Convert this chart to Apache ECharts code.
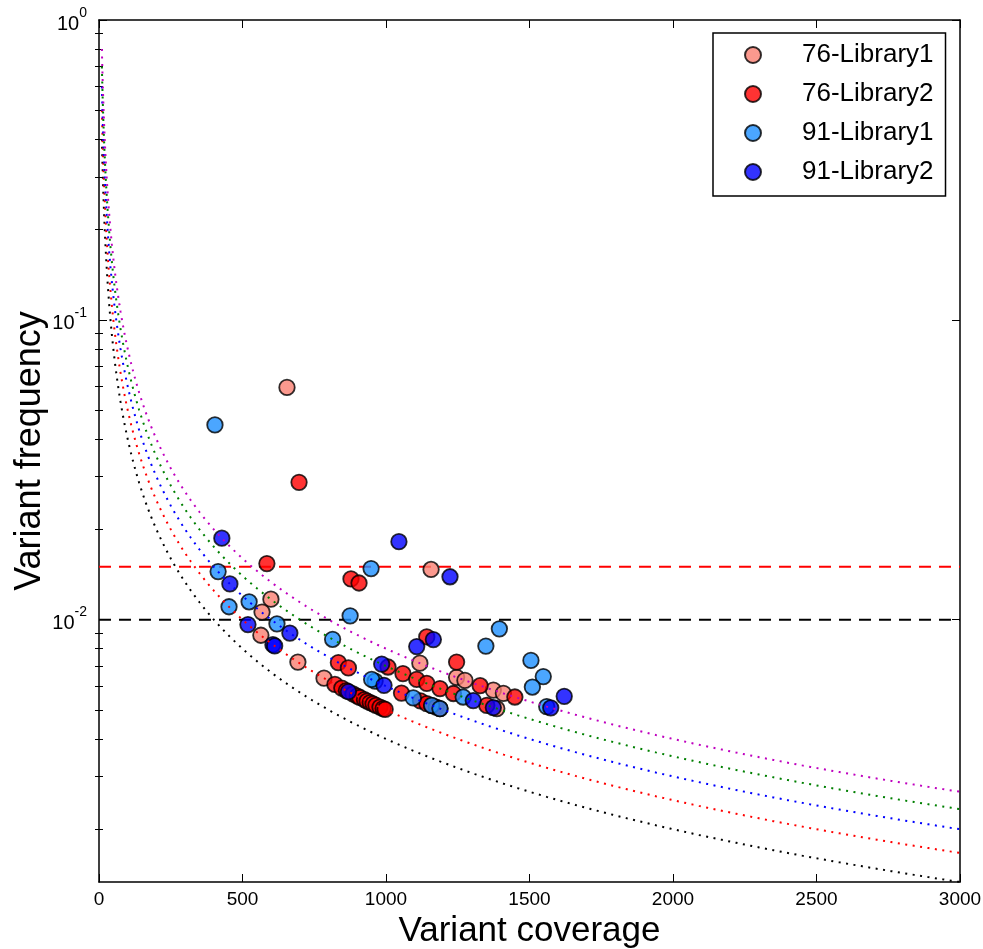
<!DOCTYPE html>
<html>
<head>
<meta charset="utf-8">
<script src="https://cdn.jsdelivr.net/npm/echarts@6/dist/echarts.min.js"></script>
<style>html,body{margin:0;padding:0;background:#fff;}#chart{width:983px;height:949px;}</style>
</head>
<body>
<div id="chart"></div>
<script>
// ---------- data ----------
const seriesNames = ['76-Library1', '76-Library2', '91-Library1', '91-Library2'];

const coverage76L1 = [655, 1157, 599, 568, 564, 693, 784, 1118, 1246, 1275, 1374, 1409, 1386];
const freq76L1     = [0.0595, 0.0147, 0.0117, 0.0106, 0.00887, 0.00722, 0.00638, 0.00716, 0.00642, 0.00627, 0.00582, 0.00568, 0.00505];

const coverage76L2 = [697, 585, 878, 906, 1142, 834, 869, 1007, 1059, 1107, 1142, 1188, 1246, 1328, 1449, 1054,
                      1120, 1142, 1160, 1175, 1188, 1235, 1351,
                      822, 846, 862, 885, 900, 909, 925, 934, 945, 955, 965, 979, 990, 997];
const freq76L2     = [0.0287, 0.01538, 0.01367, 0.01325, 0.00876, 0.00719, 0.0069, 0.00695, 0.00661, 0.00632, 0.00613, 0.00589, 0.00722, 0.00602, 0.00552, 0.00569,
                      0.00536, 0.00525, 0.00517, 0.00511, 0.00505, 0.00567, 0.00518,
                      0.00608, 0.00591, 0.0058, 0.00565, 0.00556, 0.0055, 0.00541, 0.00535, 0.00529, 0.00524, 0.00518, 0.00511, 0.00505, 0.00502];

const coverage91L1 = [404, 948, 875, 415, 453, 523, 620, 814, 962, 950, 1095, 1159, 1188, 1269, 1395, 1348, 1505, 1548, 1510, 1560];
const freq91L1     = [0.0446, 0.0148, 0.0103, 0.01446, 0.01104, 0.01147, 0.00968, 0.0086, 0.00624, 0.00632, 0.00548, 0.00518, 0.00505, 0.00552, 0.00932, 0.00816, 0.00731, 0.00646, 0.00596, 0.00513];

const coverage91L2 = [428, 1045, 1223, 456, 519, 665, 606, 612, 869, 985, 993, 1165, 1107, 1304, 1374, 1621, 1574];
const freq91L2     = [0.0187, 0.0182, 0.0139, 0.01316, 0.00963, 0.00902, 0.00825, 0.00817, 0.00575, 0.00711, 0.00604, 0.00858, 0.00813, 0.00537, 0.00509, 0.00555, 0.00508];

// threshold lines
const thresholdValues = [0.015, 0.01];
// guide curves: frequency = reads / coverage
const guideReads = [4, 5, 6, 7, 8];
const yMajorTicks = [0.01, 0.1, 1];
const yMinorTicks = [0.002,0.003,0.004,0.005,0.006,0.007,0.008,0.009,
                     0.02,0.03,0.04,0.05,0.06,0.07,0.08,0.09,
                     0.2,0.3,0.4,0.5,0.6,0.7,0.8,0.9];
const xMin = 0, xMax = 3000;
const yMin = 4 / 3000, yMax = 1;

// ---------- styles ----------
const FONT = '"Liberation Sans", Arial, sans-serif';
const pointColors = ['#FA8072', '#FF0000', '#1E90FF', '#0000FF'];
const guideColors = ['#000000', '#FF0000', '#0000FF', '#008000', '#BF00BF'];
const thresholdColors = ['#FF0000', '#000000'];

function zip(xs, ys) { return xs.map((x, i) => [x, ys[i]]); }
const pointData = [zip(coverage76L1, freq76L1), zip(coverage76L2, freq76L2), zip(coverage91L1, freq91L1), zip(coverage91L2, freq91L2)];

const guideX = [];
for (let x = 10; x < 100; x += 1) guideX.push(x);
for (let x = 100; x <= 3000; x += 10) guideX.push(x);

const series = [];
// threshold lines spanning the x range (drawn below points)
thresholdValues.forEach((v, i) => {
  series.push({
    name: 'threshold' + i, type: 'line', xAxisIndex: 0, yAxisIndex: 0, silent: true, z: 1,
    showSymbol: false, data: [[xMin, v], [xMax, v]],
    lineStyle: {color: thresholdColors[i], width: 2, type: [12, 8]}
  });
});
pointData.forEach((d, i) => {
  series.push({
    name: seriesNames[i], type: 'scatter', data: d, xAxisIndex: 0, yAxisIndex: 0, z: 2 + i,
    symbol: 'circle', symbolSize: 15.5,
    itemStyle: {color: pointColors[i], borderColor: '#000', borderWidth: 1.8, opacity: 0.8}
  });
});
guideReads.forEach((k, i) => {
  series.push({
    name: 'guide' + k, type: 'line', showSymbol: false, silent: true, z: 10,
    xAxisIndex: 0, yAxisIndex: 0,
    data: guideX.map(x => [x, k / x]),
    lineStyle: {color: guideColors[i], width: 2, type: [2, 5.5]}
  });
});

const tickLabelStyle = {color: '#000', fontFamily: FONT, fontSize: 19};
const frameLine = {show: true, onZero: false, lineStyle: {color: '#000', width: 1.5}};

const option = {
  animation: false,
  backgroundColor: '#fff',
  grid: {left: 99, right: 23, top: 20, bottom: 67, containLabel: false, outerBoundsMode: 'none'},
  legend: {
    data: seriesNames,
    orient: 'vertical', left: 713, top: 33,
    padding: [7, 12, 9, 31],
    itemGap: 9, itemWidth: 16, itemHeight: 16, icon: 'circle',
    borderColor: '#000', borderWidth: 1.5, backgroundColor: '#fff',
    textStyle: {fontFamily: FONT, fontSize: 26, color: '#000', lineHeight: 30, padding: [0, 0, 0, 36]}
  },
  xAxis: [
    {type: 'value', position: 'bottom', min: xMin, max: xMax, interval: 500,
     name: 'Variant coverage', nameLocation: 'middle', nameGap: 32, nameMoveOverlap: false,
     nameTextStyle: {fontFamily: FONT, fontSize: 35, color: '#000'},
     axisLine: frameLine, axisTick: {show: true, inside: true, length: 8, lineStyle: {color: '#000', width: 1}},
     axisLabel: Object.assign({margin: 8, formatter: v => String(v)}, tickLabelStyle), splitLine: {show: false}},
    {type: 'value', position: 'top', min: xMin, max: xMax, interval: 500,
     axisLine: frameLine, axisTick: {show: true, inside: true, length: 8, lineStyle: {color: '#000', width: 1}},
     axisLabel: {show: false}, splitLine: {show: false}}
  ],
  yAxis: [
    {type: 'log', logBase: 10, position: 'left', min: yMin, max: yMax,
     name: 'Variant frequency', nameLocation: 'middle', nameGap: 51, nameMoveOverlap: false,
     nameTextStyle: {fontFamily: FONT, fontSize: 36, color: '#000'},
     axisLine: frameLine,
     axisTick: {show: true, inside: true, length: 8, customValues: yMajorTicks, lineStyle: {color: '#000', width: 1}},
     axisLabel: {show: true, margin: 12, customValues: yMajorTicks,
       formatter: function (v) { const e = Math.round(Math.log10(v)); return '{b|10}{s|' + e + '}'; },
       rich: {
         b: {fontFamily: FONT, fontSize: 20, color: '#000', lineHeight: 28, verticalAlign: 'bottom'},
         s: {fontFamily: FONT, fontSize: 14, color: '#000', lineHeight: 15, verticalAlign: 'top'}
       }},
     splitLine: {show: false}},
    {type: 'log', logBase: 10, position: 'left', min: yMin, max: yMax,
     axisLine: {show: false},
     axisTick: {show: true, inside: true, length: 4, customValues: yMinorTicks, lineStyle: {color: '#000', width: 1}},
     axisLabel: {show: false}, splitLine: {show: false}},
    {type: 'log', logBase: 10, position: 'right', min: yMin, max: yMax,
     axisLine: frameLine,
     axisTick: {show: true, inside: true, length: 8, customValues: yMajorTicks, lineStyle: {color: '#000', width: 1}},
     axisLabel: {show: false}, splitLine: {show: false}},
    {type: 'log', logBase: 10, position: 'right', min: yMin, max: yMax,
     axisLine: {show: false},
     axisTick: {show: true, inside: true, length: 4, customValues: yMinorTicks, lineStyle: {color: '#000', width: 1}},
     axisLabel: {show: false}, splitLine: {show: false}}
  ],
  series: series
};

const chart = echarts.init(document.getElementById('chart'), null, {renderer: 'canvas'});
chart.setOption(option);
</script>
</body>
</html>
